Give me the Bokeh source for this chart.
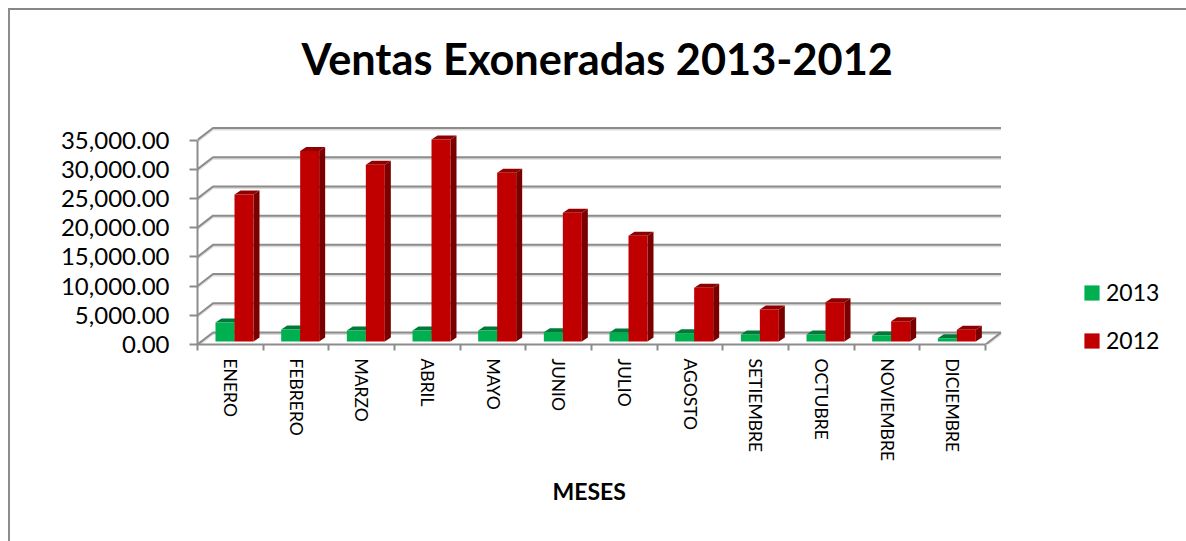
from bokeh.embed import file_html
from bokeh.resources import INLINE
from bokeh.plotting import figure
from bokeh.models import FixedTicker, NumeralTickFormatter, Legend, LegendItem, Title

months = ["ENERO", "FEBRERO", "MARZO", "ABRIL", "MAYO", "JUNIO", "JULIO", "AGOSTO",
          "SETIEMBRE", "OCTUBRE", "NOVIEMBRE", "DICIEMBRE"]
ventas_2013 = [3250, 2050, 1880, 1880, 1880, 1590, 1540, 1420, 1200, 1200, 1030, 570]
ventas_2012 = [25170, 32590, 30260, 34590, 28870, 22030, 18100, 9200, 5480, 6730, 3480, 2000]
y_ticks = [0, 5000, 10000, 15000, 20000, 25000, 30000, 35000]

PX_X = 788 / 12          # px per category
PX_Y = 204.5 / 35000     # px per sale unit
WALL_DX, WALL_DY = 15.5 / PX_X, 12 / PX_Y
BAR_DX, BAR_DY = 6 / PX_X, 4 / PX_Y
BAR_START, BAR_W = 18 / PX_X, 19 / PX_X
BASE = 3 / PX_Y

W, H = 1178, 533
FL, FR, FT, FB = 187, 995, 90, 332

p = figure(width=W, height=H, frame_width=FR - FL, frame_height=FB - FT,
           output_backend="svg", toolbar_location=None,
           x_range=(0, (FR - FL) / PX_X), y_range=(0, (FB - FT) / PX_Y),
           min_border_left=FL, min_border_right=W - 3 - FR,
           min_border_top=FT, min_border_bottom=H - 2 - FB,
           background_fill_color="white", border_fill_color="white",
           margin=(8, 0, 0, 8),
           styles={"border-top": "2px solid #868686",
                   "border-left": "2px solid #8c8c8c",
                   "border-right": "1px solid #c8c8c8",
                   "box-sizing": "border-box"})
p.outline_line_color = None
p.grid.visible = False

GRID = "#8c8c8c"
SHADOW = "#dcdcdc"

# walls and floor
n = len(months)
wall_x, wall_y = [], []
for t in y_ticks:
    wall_x.append([0, WALL_DX, n + WALL_DX])
    wall_y.append([t, t + WALL_DY, t + WALL_DY])
wall_x.append([n, n + WALL_DX])
wall_y.append([0, WALL_DY])
sx = [[a for a in xs] for xs in wall_x]
sy = [[b - 1.5 / PX_Y for b in ys] for ys in wall_y]
p.multi_line(sx, sy, line_color=SHADOW, line_width=2)
p.multi_line(wall_x, wall_y, line_color=GRID, line_width=2)

# 3-D bars
def bar(i, v, offset, front, top, side):
    x0 = i + BAR_START + offset
    x1 = x0 + BAR_W
    y0, y1 = BASE, BASE + v
    p.patch([x1, x1 + BAR_DX, x1 + BAR_DX, x1],
            [y0, y0 + BAR_DY, y1 + BAR_DY, y1], color=side, line_width=0)
    p.patch([x0, x0 + BAR_DX, x1 + BAR_DX, x1],
            [y1, y1 + BAR_DY, y1 + BAR_DY, y1], color=top, line_width=0)
    return p.quad(left=[x0], right=[x1], bottom=[y0], top=[y1], color=front, line_width=0)

r13, r12 = None, None
for i in range(n):
    r13 = bar(i, ventas_2013[i], 0, "#00b050", "#007a38", "#006b30")
    r12 = bar(i, ventas_2012[i], BAR_W, "#c00000", "#8f0000", "#7a0000")

# axes
ya = p.yaxis[0]
ya.ticker = FixedTicker(ticks=y_ticks)
ya.formatter = NumeralTickFormatter(format="0,0.00")
ya.bounds = (0, 35000)
ya.axis_line_color = GRID
ya.axis_line_width = 2
ya.major_tick_line_color = GRID
ya.major_tick_line_width = 2
ya.major_tick_in = 0
ya.major_tick_out = 8
ya.minor_tick_line_color = None
ya.major_label_text_font = "Lato"
ya.major_label_text_font_size = "24px"
ya.major_label_text_color = "black"
ya.major_label_standoff = 20

xa = p.xaxis[0]
centres = [i + 0.5 for i in range(n)]
xa.ticker = FixedTicker(ticks=centres, minor_ticks=list(range(n + 1)))
xa.major_label_overrides = {c: m for c, m in zip(centres, months)}
xa.major_label_orientation = "vertical"
xa.major_label_text_font = "Lato"
xa.major_label_text_font_size = "17.5px"
xa.major_label_text_color = "black"
xa.major_label_standoff = 8
xa.bounds = (0, n)
xa.axis_line_color = GRID
xa.axis_line_width = 2
xa.major_tick_line_color = None
xa.minor_tick_line_color = GRID
xa.minor_tick_line_width = 2
xa.minor_tick_in = 0
xa.minor_tick_out = 6

# axis title, placed under the tick labels
p.add_layout(Title(text="MESES", align="left", offset=355, standoff=20, text_font="Lato",
                   text_font_style="bold", text_font_size="23px", text_color="black"), "below")

# title
p.title = Title(text="Ventas Exoneradas 2013-2012", align="left", text_font="Lato",
                text_font_style="bold", text_font_size="43.3px", text_color="black",
                standoff=38, offset=104)

# legend
leg = Legend(items=[LegendItem(label="2013", renderers=[r13]),
                    LegendItem(label="2012", renderers=[r12])],
             location=(77, -10), orientation="vertical", border_line_color=None,
             background_fill_alpha=0, glyph_width=19, glyph_height=19,
             label_text_font="Lato", label_text_font_size="23px", label_text_color="black",
             label_height=25, spacing=20, label_standoff=5, margin=0, padding=5)
p.add_layout(leg, "right")

open("out.html", "w").write(file_html(p, INLINE))
